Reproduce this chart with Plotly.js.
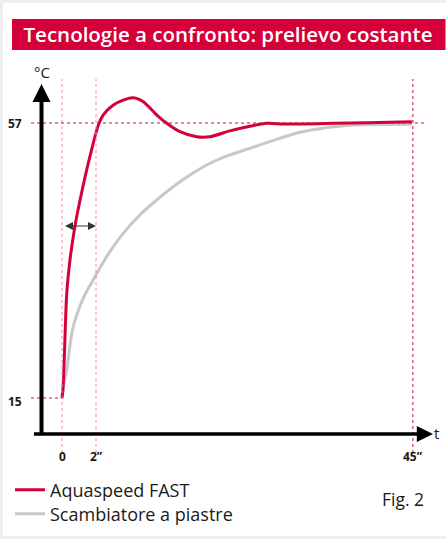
<!DOCTYPE html>
<html><head><meta charset="utf-8">
<script src="https://cdn.plot.ly/plotly-3.0.1.min.js"></script>
<style>html,body{margin:0;padding:0;background:#efefef;}#chart{width:446px;height:539px;}</style>
</head><body><div id="chart"></div>
<script>
// ---- data (schematic time units: 0 -> "0", 1 -> 2", 10.32 -> 45") ----
const xTickVals = [0, 1, 10.32];
const xTickText = ['0', '2”', '45”'];
const yTickVals = [15, 57];
const yTickText = ['15', '57'];

const fastX = [0, 0.03, 0.07, 0.14, 0.235, 0.38, 0.53, 0.82, 1.07, 1.21, 1.51, 1.80, 2.10, 2.39, 2.79, 3.08, 3.47, 3.96, 4.35, 4.94, 5.53, 6.02, 6.51, 7.0, 7.98, 8.96, 10.29];
const fastY = [15, 16.5, 21.5, 31.0, 36.1, 41.2, 45.2, 51.85, 56.7, 58.2, 59.75, 60.5, 60.86, 60.25, 58.2, 56.95, 55.67, 54.9, 54.9, 55.8, 56.5, 56.95, 56.85, 56.85, 56.95, 57.05, 57.2];

const plateX = [0, 0.07, 0.14, 0.33, 0.63, 0.87, 1.02, 1.315, 1.80, 2.29, 2.785, 3.27, 3.765, 4.256, 4.744, 5.53, 6.02, 7.0, 7.79, 8.47, 10.29];
const plateY = [15, 17.5, 19.3, 25.9, 30.3, 32.6, 34.0, 36.6, 40.15, 42.95, 45.24, 47.27, 49.06, 50.59, 51.76, 53.14, 54.0, 55.6, 56.3, 56.65, 56.8];

const seriesNames = ['Aquaspeed FAST', 'Scambiatore a piastre'];

// ---- layout helpers (pixel -> axis coordinates) ----
const L = 28, R = 10, T = 60, B = 69, W = 446, H = 539;
const pxX = px => (px - 62) / 34;
const pxY = py => 57 - (py - 123) * 42 / 275;
const xr = [pxX(L), pxX(W - R)];
const yr = [pxY(H - B), pxY(T)];
const pw = W - L - R, ph = H - T - B;
const ppX = px => (px - L) / pw;
const ppY = py => (H - B - py) / ph;

const RED = '#d5003a', GREY = '#c8c8c8', INK = '#1a1a1a';
const FONT = 'Open Sans, Noto Sans, sans-serif';

const traces = [
  {x: plateX, y: plateY, name: seriesNames[1], legend: 'legend2', mode: 'lines', line: {color: GREY, width: 3, shape: 'spline', smoothing: 1}},
  {x: fastX, y: fastY, name: seriesNames[0], legend: 'legend', mode: 'lines', line: {color: RED, width: 3, shape: 'spline', smoothing: 0.8}}
];

const shapes = [
  {type: 'rect', xref: 'paper', yref: 'paper', x0: ppX(3), x1: ppX(446), y0: ppY(536), y1: ppY(3), fillcolor: '#ffffff', line: {width: 0}, layer: 'below'},
  {type: 'rect', xref: 'paper', yref: 'paper', x0: ppX(12), x1: ppX(445.5), y0: ppY(50), y1: ppY(19), fillcolor: RED, line: {width: 0}, layer: 'below'}
];
xTickVals.forEach((v, i) => {
  shapes.push({type: 'line', x0: v, x1: v, y0: pxY(453), y1: pxY(79),
    line: {color: i === 2 ? '#c8103f' : '#eb8fa6', width: 1, dash: 'dot'}});
});
shapes.push({type: 'line', x0: pxX(31), x1: xTickVals[0], y0: yTickVals[0], y1: yTickVals[0], line: {color: '#c8103f', width: 1, dash: 'dot'}});
shapes.push({type: 'line', x0: pxX(31), x1: pxX(426), y0: yTickVals[1], y1: yTickVals[1], line: {color: '#c8103f', width: 1, dash: 'dot'}});

const annotations = [];
annotations.push({x: pxX(41.5), y: pxY(84), ax: pxX(41.5), ay: pxY(444), axref: 'x', ayref: 'y', text: ' ', showarrow: true, arrowhead: 2, arrowsize: 0.9, arrowwidth: 4, arrowcolor: '#000'});
annotations.push({x: pxX(433), y: pxY(434), ax: pxX(31), ay: pxY(434), axref: 'x', ayref: 'y', text: ' ', showarrow: true, arrowhead: 2, arrowsize: 0.9, arrowwidth: 3.6, arrowcolor: '#000'});
annotations.push({x: xTickVals[1], y: pxY(226), ax: xTickVals[0], ay: pxY(226), axref: 'x', ayref: 'y', text: ' ', showarrow: true, arrowhead: 2, startarrowhead: 2, arrowside: 'end+start', arrowsize: 1.6, startarrowsize: 1.6, arrowwidth: 1, arrowcolor: '#333'});
xTickVals.forEach((v, i) => {
  annotations.push({x: v, y: pxY(456.5), text: '<b>' + xTickText[i] + '</b>', showarrow: false, font: {family: FONT, size: 12, color: INK}});
});
yTickVals.forEach((v, i) => {
  annotations.push({xref: 'paper', x: ppX(23.5), y: v - (i === 0 ? 0.5 : 0.1), xanchor: 'right', text: '<b>' + yTickText[i] + '</b>', showarrow: false, font: {family: FONT, size: 12, color: INK}});
});
annotations.push({x: pxX(41.5), y: pxY(72), text: '°C', showarrow: false, font: {family: FONT, size: 15, weight: 500, color: INK}});
annotations.push({xref: 'paper', x: ppX(440.5), y: pxY(433), text: 't', showarrow: false, font: {family: FONT, size: 15, color: INK}});
annotations.push({xref: 'paper', yref: 'paper', x: ppX(426), y: ppY(513), xanchor: 'right', text: 'Fig. 2', showarrow: false, font: {family: FONT, size: 17.5, color: INK}});

const legendBase = {xref: 'container', yref: 'container', x: 10 / W, xanchor: 'left', yanchor: 'middle',
  font: {family: FONT, size: 18, color: INK}, bgcolor: 'rgba(0,0,0,0)', borderwidth: 0};

const layout = {
  width: W, height: H,
  margin: {l: L, r: R, t: T, b: B, pad: 0, autoexpand: false},
  paper_bgcolor: '#efefef', plot_bgcolor: 'rgba(0,0,0,0)',
  title: {text: 'Tecnologie a confronto: prelievo costante', font: {family: FONT, size: 20.5, weight: 600, color: '#ffffff'},
    xref: 'container', yref: 'container', x: 228 / W, y: 1 - 35 / H, xanchor: 'center', yanchor: 'middle'},
  xaxis: {range: xr, showgrid: false, zeroline: false, showticklabels: false, ticks: '', showline: false, fixedrange: true},
  yaxis: {range: yr, showgrid: false, zeroline: false, showticklabels: false, ticks: '', showline: false, fixedrange: true},
  showlegend: true,
  legend: Object.assign({}, legendBase, {y: 1 - 490 / H}),
  legend2: Object.assign({}, legendBase, {y: 1 - 514 / H}),
  shapes: shapes,
  annotations: annotations
};

Plotly.newPlot('chart', traces, layout, {displayModeBar: false, staticPlot: true});
</script></body></html>
